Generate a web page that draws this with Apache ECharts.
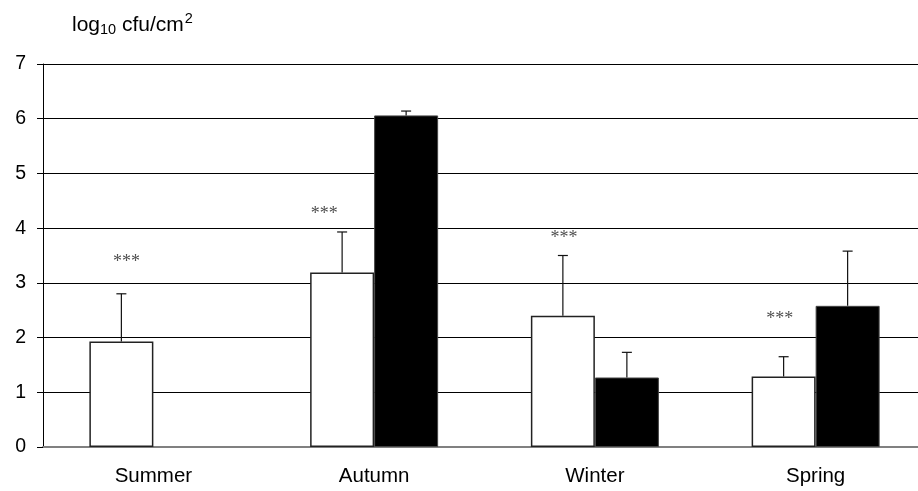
<!DOCTYPE html>
<html>
<head>
<meta charset="utf-8">
<script src="https://cdn.jsdelivr.net/npm/echarts@6/dist/echarts.min.js"></script>
<style>
  html, body { margin: 0; padding: 0; background: #fff; }
  #chart { width: 918px; height: 491px; }
</style>
</head>
<body>
<div id="chart"></div>
<script>
// Seasonal counts, log10 cfu/cm2
const seasons = ['Summer', 'Autumn', 'Winter', 'Spring'];
const whiteMeans = [1.93, 3.19, 2.40, 1.29];
const whiteUpper = [2.80, 3.93, 3.50, 1.65];
const blackMeans = [null, 6.06, 1.27, 2.58];
const blackUpper = [null, 6.14, 1.73, 3.58];
// height of the significance marks above each season
const starLevels = [3.38, 4.25, 3.81, 2.34];
const starText = '***';
const yTicks = [0, 1, 2, 3, 4, 5, 6, 7];

const FONT = 'Liberation Sans, Arial, sans-serif';
const BAR_W = 64;

function errorSeries(means, upper, side) {
  const data = [];
  means.forEach(function (m, i) {
    if (m !== null) data.push([i, m, upper[i]]);
  });
  return {
    type: 'custom',
    z: 5,
    data: data,
    renderItem: function (params, api) {
      const base = api.coord([api.value(0), api.value(1)]);
      const top = api.coord([api.value(0), api.value(2)]);
      const x = base[0] + side * BAR_W / 2;
      const style = { stroke: '#111', lineWidth: 1.2 };
      return {
        type: 'group',
        children: [
          { type: 'line', shape: { x1: x, y1: base[1], x2: x, y2: top[1] }, style: style },
          { type: 'line', shape: { x1: x - 5, y1: top[1], x2: x + 5, y2: top[1] }, style: style }
        ]
      };
    }
  };
}

const chart = echarts.init(document.getElementById('chart'));
chart.setOption({
  animation: false,
  backgroundColor: '#ffffff',
  grid: { left: 43, top: 64, width: 883, bottom: 44, outerBoundsMode: 'none', containLabel: false },
  graphic: [{
    type: 'text',
    left: 72,
    top: 11,
    style: {
      text: '{a|log}{s|10}{a| cfu/cm}{p|2}',
      rich: {
        a: { fontFamily: FONT, fontSize: 21, fill: '#000', lineHeight: 28, verticalAlign: 'middle' },
        s: { fontFamily: FONT, fontSize: 14.5, fill: '#000', lineHeight: 28, verticalAlign: 'bottom', padding: [0, 0, 2, 0] },
        p: { fontFamily: FONT, fontSize: 14.5, fill: '#000', lineHeight: 28, verticalAlign: 'top', padding: [0, 0, 0, 1] }
      }
    }
  }],
  xAxis: {
    type: 'category',
    data: seasons,
    axisLine: { lineStyle: { color: '#808080', width: 2 } },
    axisTick: { show: false },
    axisLabel: { fontFamily: FONT, fontSize: 20.5, color: '#000', margin: 19 }
  },
  yAxis: {
    type: 'value',
    min: yTicks[0],
    max: yTicks[yTicks.length - 1],
    interval: 1,
    axisLine: { show: true, lineStyle: { color: '#000', width: 1 } },
    axisTick: { show: true, length: 6, lineStyle: { color: '#000' } },
    axisLabel: { fontFamily: FONT, fontSize: 19.5, color: '#000', margin: 17 },
    splitLine: { lineStyle: { color: '#000', width: 1 } }
  },
  series: [
    {
      type: 'bar',
      data: whiteMeans,
      barWidth: BAR_W,
      barGap: '0%',
      itemStyle: { color: '#ffffff', borderColor: '#222', borderWidth: 1.5 }
    },
    {
      type: 'bar',
      data: blackMeans,
      barWidth: BAR_W,
      itemStyle: { color: '#000000', borderColor: '#444', borderWidth: 1 }
    },
    errorSeries(whiteMeans, whiteUpper, -1),
    errorSeries(blackMeans, blackUpper, 1),
    {
      type: 'scatter',
      symbolSize: 0,
      z: 6,
      data: starLevels.map(function (v, i) {
        const shift = [5, -18, 1, -4][i];
        return {
          value: [i, v],
          label: { offset: [shift - BAR_W / 2, 0] }
        };
      }),
      label: {
        show: true,
        position: 'inside',
        formatter: starText,
        fontFamily: 'Liberation Serif, Times New Roman, serif',
        fontSize: 18,
        color: '#222'
      }
    }
  ]
});
</script>
</body>
</html>
